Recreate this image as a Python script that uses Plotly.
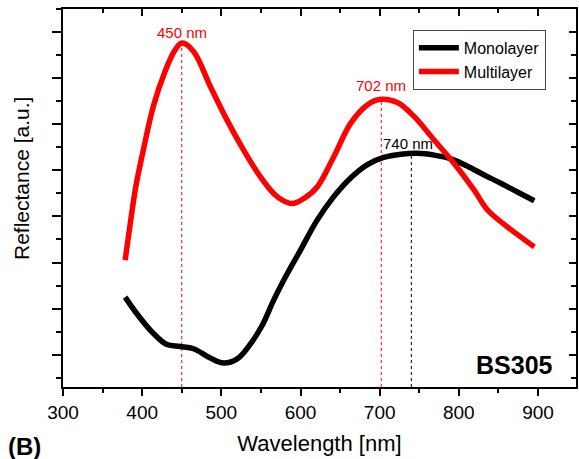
import plotly.graph_objects as go

# Wavelength [nm] and reflectance [a.u.]
mono_x = [378.5, 393.3, 414.3, 431.3, 448.0, 465.0, 486.0, 503.0, 520.0, 537.0, 552.0,
          566.0, 583.0, 600.0, 621.0, 642.0, 663.0, 684.0, 705.0, 727.0, 748.0, 769.0,
          790.0, 811.0, 832.0, 853.0, 874.0, 895.3]
mono_y = [1.25, 0.89, 0.46, 0.22, 0.18, 0.13, -0.07, -0.18, -0.09, 0.24, 0.65,
          1.18, 1.75, 2.27, 2.92, 3.43, 3.83, 4.12, 4.28, 4.35, 4.37, 4.33,
          4.25, 4.09, 3.90, 3.72, 3.53, 3.34]

multi_x = [378.5, 385.0, 392.0, 401.6, 414.3, 429.0, 441.8, 450.3, 464.9, 486.1, 507.2,
           528.2, 549.4, 570.5, 589.5, 604.2, 621.1, 642.2, 663.3, 684.4, 701.3, 722.4,
           743.4, 768.7, 794.1, 819.4, 836.3, 861.6, 895.3]
multi_y = [2.05, 2.85, 3.65, 4.45, 5.40, 6.15, 6.62, 6.76, 6.58, 5.82, 5.09,
           4.44, 3.86, 3.43, 3.28, 3.39, 3.64, 4.30, 5.02, 5.42, 5.54, 5.47,
           5.17, 4.66, 4.15, 3.57, 3.14, 2.77, 2.34]

# peak markers
peak_x = [450, 702, 740]
peak_y = [6.76, 5.54, 4.36]
peak_labels = ["450 nm", "702 nm", "740 nm"]
peak_colors = ["#ff0000", "#ff0000", "#000000"]
label_x = [450, 702, 736]
label_y = [7.0, 5.83, 4.59]

x_range = [300, 948]
y_range = [-0.70, 7.5]
x_ticks = [300, 400, 500, 600, 700, 800, 900]

font_family = "Liberation Sans, Arial, sans-serif"

fig = go.Figure()
fig.add_trace(go.Scatter(x=mono_x, y=mono_y, mode="lines", name="Monolayer",
                         line=dict(color="#000000", width=5.5, shape="spline", smoothing=1.0)))
fig.add_trace(go.Scatter(x=multi_x, y=multi_y, mode="lines", name="Multilayer",
                         line=dict(color="#ff0000", width=5.5, shape="spline", smoothing=1.0)))
# empty helper trace so the mirrored axes are drawn
fig.add_trace(go.Scatter(x=[], y=[], xaxis="x2", yaxis="y2", showlegend=False, hoverinfo="skip"))

for px, py, c in zip(peak_x, peak_y, peak_colors):
    fig.add_shape(type="line", xref="x", yref="y", x0=px, x1=px, y0=y_range[0], y1=py,
                  line=dict(color=c, width=1, dash="dot"), layer="below")

for lx, ly, t, c in zip(label_x, label_y, peak_labels, peak_colors):
    fig.add_annotation(x=lx, y=ly, xref="x", yref="y", text=t, showarrow=False,
                       font=dict(size=15, color=c, family=font_family))

fig.add_annotation(x=(555 - 63) / 513, y=(387 - 365) / 378, xref="paper", yref="paper",
                   text="<b>BS305</b>", showarrow=False, xanchor="right", yanchor="middle",
                   font=dict(size=25, color="#000000", family=font_family))
fig.add_annotation(x=(6 - 63) / 513, y=(387 - 446) / 378, xref="paper", yref="paper",
                   text="<b>(B)</b>", showarrow=False, xanchor="left", yanchor="middle",
                   font=dict(size=24, color="#000000", family=font_family))
fig.add_annotation(x=(21 - 63) / 513, y=(387 - 179) / 378, xref="paper", yref="paper",
                   text="Reflectance [a.u.]", showarrow=False, textangle=-90,
                   xanchor="center", yanchor="middle",
                   font=dict(size=21, color="#000000", family=font_family))

axis_common = dict(showgrid=False, zeroline=False, showline=True, linecolor="#000000",
                   linewidth=2)

fig.update_layout(
    width=579, height=459,
    margin=dict(l=63, r=3, t=9, b=72),
    paper_bgcolor="#ffffff", plot_bgcolor="#ffffff",
    font=dict(family=font_family, color="#000000"),
    xaxis=dict(range=x_range, tickvals=x_ticks, ticks="outside", ticklen=7, tickwidth=1.5,
               tickcolor="#000000", tickfont=dict(size=19),
               minor=dict(dtick=50, tick0=300, ticks="outside", ticklen=4, tickwidth=1.5,
                          tickcolor="#000000"),
               title=dict(text="Wavelength [nm]", font=dict(size=22), standoff=14),
               **axis_common),
    yaxis=dict(range=y_range, dtick=1, tick0=0, ticks="outside", ticklen=9, tickwidth=1.5,
               tickcolor="#000000", showticklabels=False,
               minor=dict(dtick=0.5, tick0=0, ticks="outside", ticklen=5, tickwidth=1.5,
                          tickcolor="#000000"),
               **axis_common),
    xaxis2=dict(range=x_range, overlaying="x", side="top", tickvals=x_ticks, ticks="inside",
                ticklen=7, tickwidth=1.5, tickcolor="#000000", showticklabels=False,
                minor=dict(dtick=50, tick0=300, ticks="inside", ticklen=4, tickwidth=1.5,
                           tickcolor="#000000"),
                **axis_common),
    yaxis2=dict(range=y_range, overlaying="y", side="right", dtick=1, tick0=0, ticks="inside",
                ticklen=7, tickwidth=1.5, tickcolor="#000000", showticklabels=False,
                minor=dict(dtick=0.5, tick0=0, ticks="inside", ticklen=5, tickwidth=1.5,
                           tickcolor="#000000"),
                **axis_common),
    legend=dict(x=0.682, y=0.945, xanchor="left", yanchor="top", bgcolor="#ffffff",
                bordercolor="#444444", borderwidth=1, font=dict(size=16),
                tracegroupgap=0, itemwidth=40),
    showlegend=True,
)

fig.write_html("out.html")
